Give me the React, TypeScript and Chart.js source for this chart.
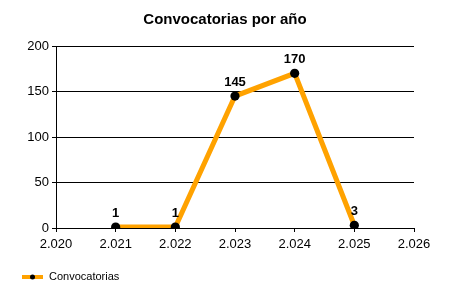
import React, { useEffect, useRef } from "react";
import { Chart, registerables } from "chart.js";

Chart.register(...registerables);

const years = [2021, 2022, 2023, 2024, 2025];
const counts = [1, 1, 145, 170, 3];
const seriesName = "Convocatorias";
const chartTitle = "Convocatorias por año";
const xMin = 2020;
const xMax = 2026;
const yMax = 200;
const yStep = 50;

const FONT = "'Liberation Sans', Arial, sans-serif";
const ORANGE = "#FFA200";

const fmtYear = (v: number) => {
  const s = String(Math.round(v));
  return s.slice(0, s.length - 3) + "." + s.slice(-3);
};

const overlay = {
  id: "overlay",
  afterDatasetsDraw(chart: any) {
    const ctx = chart.ctx;
    const meta = chart.getDatasetMeta(0);
    ctx.save();
    ctx.fillStyle = "#000";
    ctx.font = `bold 13px ${FONT}`;
    ctx.textAlign = "center";
    ctx.textBaseline = "alphabetic";
    meta.data.forEach((pt: any, i: number) => {
      ctx.fillText(String(counts[i]), pt.x, pt.y - 10.5);
    });
    // title
    ctx.font = `bold 15px ${FONT}`;
    ctx.fillText(chartTitle, 225, 24);
    // legend
    ctx.strokeStyle = ORANGE;
    ctx.lineWidth = 4;
    ctx.beginPath();
    ctx.moveTo(22, 277);
    ctx.lineTo(43, 277);
    ctx.stroke();
    ctx.beginPath();
    ctx.arc(32.5, 277, 2.5, 0, Math.PI * 2);
    ctx.fillStyle = "#000";
    ctx.fill();
    ctx.font = `11px ${FONT}`;
    ctx.textAlign = "left";
    ctx.textBaseline = "middle";
    ctx.fillText(seriesName, 49, 277);
    ctx.restore();
  },
};

export default function App() {
  const ref = useRef<HTMLCanvasElement>(null);
  useEffect(() => {
    if (!ref.current) return;
    const chart = new Chart(ref.current, {
      type: "line",
      data: {
        datasets: [
          {
            label: seriesName,
            data: years.map((y, i) => ({ x: y, y: counts[i] })),
            borderColor: ORANGE,
            borderWidth: 5,
            pointBackgroundColor: "#000",
            pointBorderColor: "#000",
            pointRadius: 4.6,
            pointBorderWidth: 0,
            tension: 0,
          },
        ],
      },
      options: {
        responsive: false,
        animation: false,
        devicePixelRatio: 1,
        layout: { padding: { left: 0, right: 36, top: 46, bottom: 0 } },
        plugins: { legend: { display: false }, title: { display: false }, tooltip: { enabled: false } },
        scales: {
          x: {
            type: "linear",
            min: xMin,
            max: xMax,
            afterFit: (s: any) => { s.height = 72; },
            ticks: {
              stepSize: 1,
              color: "#000",
              font: { family: FONT, size: 13 },
              padding: 5,
              maxRotation: 0,
              callback: (v: any) => fmtYear(Number(v)),
            },
            grid: { drawOnChartArea: false, color: "#000", tickLength: 4, lineWidth: 1 },
            border: { color: "#000", width: 1 },
          },
          y: {
            min: 0,
            max: yMax,
            afterFit: (s: any) => { s.width = 56; },
            ticks: {
              stepSize: yStep,
              color: "#000",
              font: { family: FONT, size: 13 },
              padding: 3,
            },
            grid: { color: "#000", tickLength: 4, lineWidth: 1 },
            border: { color: "#000", width: 1 },
          },
        },
      },
      plugins: [overlay],
    });
    return () => chart.destroy();
  }, []);
  return (
    <div style={{ position: "fixed", left: 0, top: 0, width: 450, height: 300, background: "#fff" }}>
      <canvas ref={ref} width={450} height={300} style={{ width: 450, height: 300 }} />
    </div>
  );
}
